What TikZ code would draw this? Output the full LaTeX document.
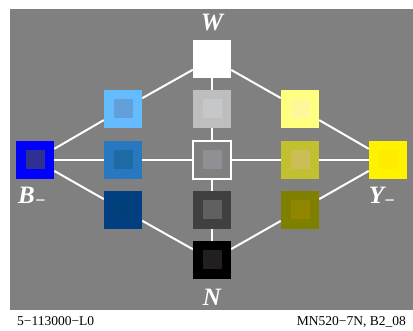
\documentclass[tikz,border=0pt]{standalone}
\usepackage{fontspec}
\setmainfont{Liberation Serif}
\usetikzlibrary{backgrounds}

\definecolor{bggray}{HTML}{808080}
\definecolor{ltgray}{HTML}{BEBEBE}
\definecolor{ltgrayin}{HTML}{C6C7C9}
\definecolor{midgrayin}{HTML}{8F9094}
\definecolor{dkgray}{HTML}{404040}
\definecolor{dkgrayin}{HTML}{606062}
\definecolor{blackin}{HTML}{231F20}
\definecolor{bluein}{HTML}{2E3192}
\definecolor{ltblue}{HTML}{64BCFF}
\definecolor{ltbluein}{HTML}{64A0D8}
\definecolor{midblue}{HTML}{2878C0}
\definecolor{midbluein}{HTML}{1E6AA4}
\definecolor{dkblue}{HTML}{004080}
\definecolor{dkbluein}{HTML}{003F78}
\definecolor{yellowin}{HTML}{FFEB00}
\definecolor{ltyellow}{HTML}{FFFF80}
\definecolor{ltyellowin}{HTML}{FFF799}
\definecolor{midolive}{HTML}{C0C030}
\definecolor{midolivein}{HTML}{CCBE56}
\definecolor{dkolive}{HTML}{808000}
\definecolor{dkolivein}{HTML}{918600}

% patch: name, position, outer colour, inner colour
\newcommand{\patch}[4]{%
  \node [outer, fill=#3] (#1) at (#2) {};
  \node [inner, fill=#4] (#1in) at (#1) {};}
% label with a low minus
\newcommand{\minuslbl}[1]{#1\raisebox{-2.5pt}{\fontsize{18}{18}\selectfont −}}

\begin{document}
\begin{tikzpicture}[x=1pt, y=-1pt,
    outer/.style={draw=none, minimum size=38pt, inner sep=0pt},
    inner/.style={draw=none, minimum size=19pt, inner sep=0pt},
    link/.style={white, line width=2pt},
    lbl/.style={white, font=\fontsize{25}{27}\selectfont\bfseries\itshape},
    foot/.style={font=\fontsize{13.5}{15}\selectfont, inner sep=0pt}]
  \useasboundingbox (0,0) rectangle (413,331);

  % top
  \patch{W}{212,59}{white}{white}
  % upper row
  \patch{ltb}{123,109}{ltblue}{ltbluein}
  \patch{ltg}{212,109}{ltgray}{ltgrayin}
  \patch{lty}{300,109}{ltyellow}{ltyellowin}
  % middle row
  \patch{B}{35,160}{blue}{bluein}
  \patch{mdb}{123,160}{midblue}{midbluein}
  \node [outer, fill=bggray, draw=white, line width=2pt] (C) at (212,160) {};
  \node [inner, fill=midgrayin] (Cin) at (C) {};
  \patch{mdy}{300,160}{midolive}{midolivein}
  \patch{Y}{388,160}{yellow}{yellowin}
  % lower row
  \patch{dkb}{123,210}{dkblue}{dkbluein}
  \patch{dkg}{212,210}{dkgray}{dkgrayin}
  \patch{dky}{300,210}{dkolive}{dkolivein}
  % bottom
  \patch{N}{212,260}{black}{blackin}

  \begin{scope}[on background layer]
    \fill [bggray] (10,9) rectangle (413,310);
    \draw [link] (W) -- (ltb);
    \draw [link] (W) -- (ltg);
    \draw [link] (W) -- (lty);
    \draw [link] (B) -- (ltb);
    \draw [link] (B) -- (mdb);
    \draw [link] (B) -- (dkb);
    \draw [link] (Y) -- (lty);
    \draw [link] (Y) -- (mdy);
    \draw [link] (Y) -- (dky);
    \draw [link] (mdb) -- (C) -- (mdy);
    \draw [link] (ltg) -- (C) -- (dkg) -- (N);
    \draw [link] (dkb) -- (N);
    \draw [link] (dky) -- (N);
  \end{scope}

  % labels
  \node [lbl] (Wlbl) at (212,23) {W};
  \node [lbl] (Blbl) at (32,197) {\minuslbl{B}};
  \node [lbl] (Ylbl) at (382,197) {\minuslbl{Y}};
  \node [lbl] (Nlbl) at (212,297) {N};
  \node [foot, anchor=base west] (code) at (17,326) {5−113000−L0};
  \node [foot, anchor=base east] (ref) at (406,326) {MN520−7N, B2\_08};
\end{tikzpicture}
\end{document}
